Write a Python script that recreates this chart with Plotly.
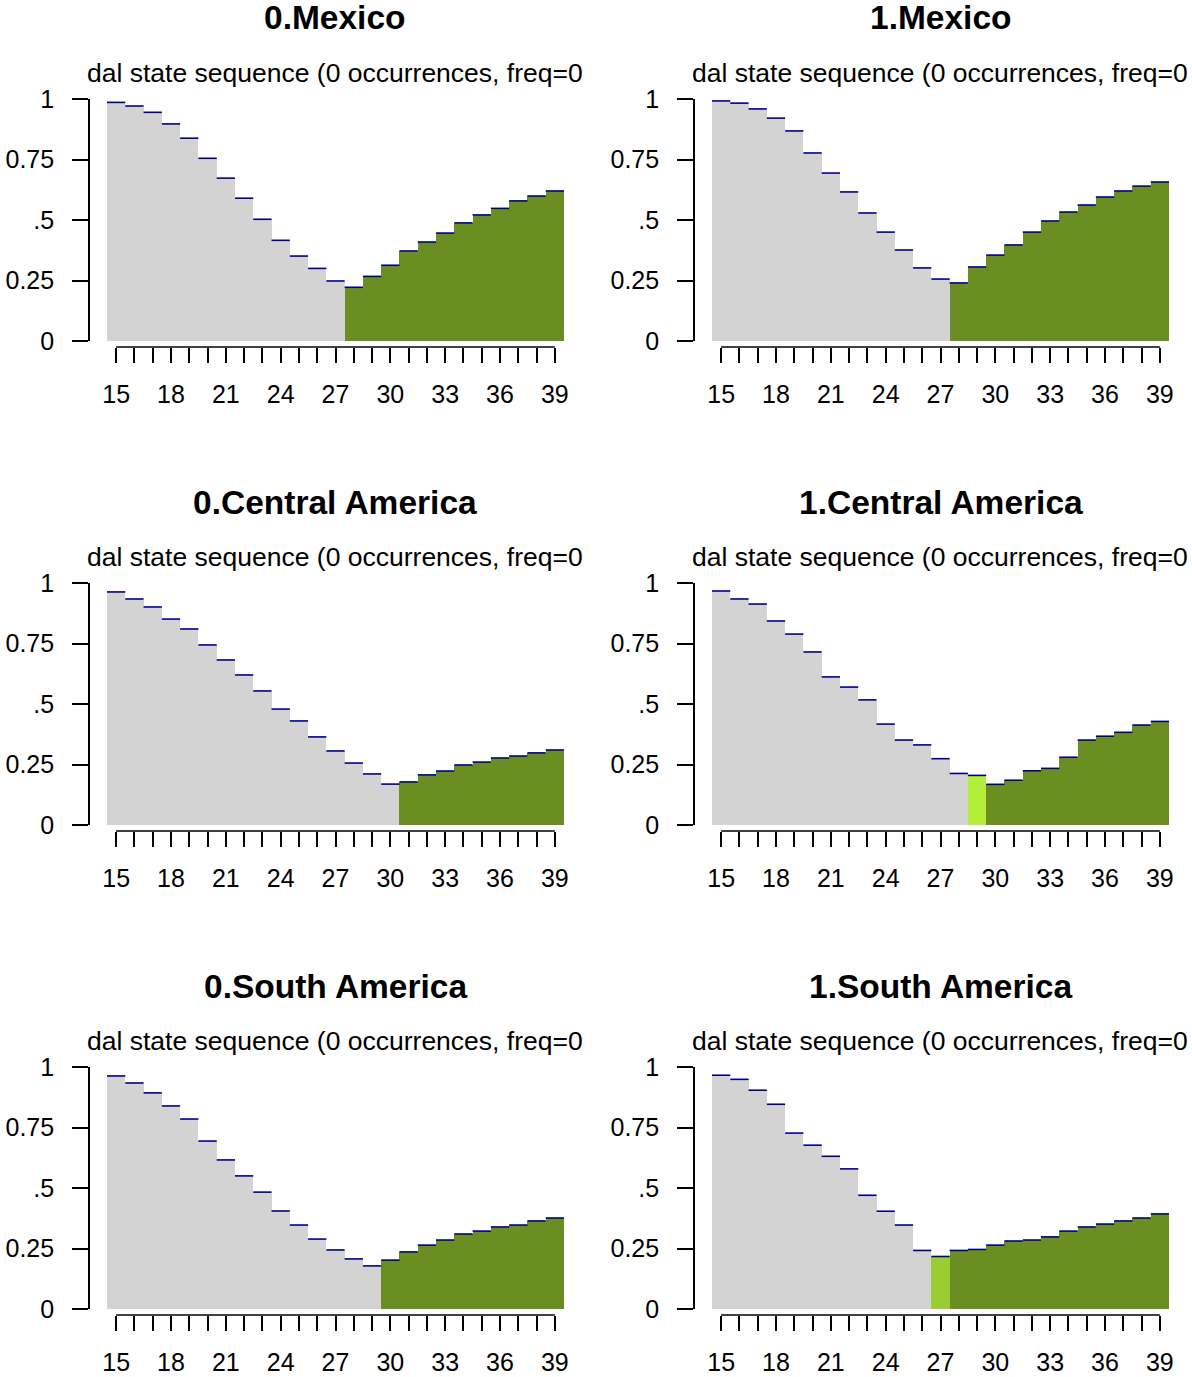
import plotly.graph_objects as go

# ---------------- data ----------------
ages = list(range(15, 40))
x_tick_text = [str(a) if (a - 15) % 3 == 0 else "" for a in ages]
y_tick_vals = [0, 0.25, 0.5, 0.75, 1]
y_tick_text = ["0", "0.25", ".5", "0.75", "1"]

panel_titles = ["0.Mexico", "1.Mexico",
                "0.Central America", "1.Central America",
                "0.South America", "1.South America"]
subtitle = "dal state sequence (0 occurrences, freq=0"

freq_0_mexico = [0.986, 0.971, 0.945, 0.897, 0.838, 0.755, 0.673, 0.590, 0.503, 0.416,
                 0.351, 0.300, 0.248, 0.222, 0.267, 0.313, 0.372, 0.409, 0.446, 0.488,
                 0.521, 0.548, 0.579, 0.599, 0.620]
state_0_mexico = list("SSSSSSSSSSSSSMMMMMMMMMMMM")

freq_1_mexico = [0.992, 0.983, 0.959, 0.921, 0.868, 0.777, 0.694, 0.616, 0.529, 0.450,
                 0.376, 0.302, 0.256, 0.240, 0.306, 0.355, 0.397, 0.450, 0.496, 0.533,
                 0.562, 0.595, 0.620, 0.640, 0.657]
state_1_mexico = list("SSSSSSSSSSSSSMMMMMMMMMMMM")

freq_0_central = [0.963, 0.934, 0.901, 0.851, 0.810, 0.744, 0.682, 0.620, 0.554, 0.479,
                  0.430, 0.364, 0.306, 0.256, 0.211, 0.169, 0.178, 0.207, 0.223, 0.248,
                  0.260, 0.277, 0.285, 0.298, 0.310]
state_0_central = list("SSSSSSSSSSSSSSSSMMMMMMMMM")

freq_1_central = [0.967, 0.934, 0.913, 0.843, 0.789, 0.715, 0.612, 0.570, 0.517, 0.417,
                  0.351, 0.331, 0.274, 0.213, 0.205, 0.168, 0.185, 0.224, 0.234, 0.280,
                  0.351, 0.367, 0.383, 0.413, 0.428]
state_1_central = list("SSSSSSSSSSSSSSCMMMMMMMMMM")

freq_0_south = [0.963, 0.934, 0.893, 0.839, 0.785, 0.694, 0.616, 0.550, 0.483, 0.405,
                0.347, 0.289, 0.244, 0.207, 0.178, 0.202, 0.236, 0.264, 0.285, 0.310,
                0.322, 0.339, 0.347, 0.364, 0.376]
state_0_south = list("SSSSSSSSSSSSSSSMMMMMMMMMM")

freq_1_south = [0.966, 0.949, 0.904, 0.846, 0.727, 0.677, 0.631, 0.579, 0.470, 0.404,
                0.347, 0.242, 0.217, 0.242, 0.246, 0.264, 0.281, 0.285, 0.298, 0.322,
                0.339, 0.351, 0.364, 0.376, 0.393]
state_1_south = list("SSSSSSSSSSSSUMMMMMMMMMMMM")

panel_freqs = [freq_0_mexico, freq_1_mexico, freq_0_central,
               freq_1_central, freq_0_south, freq_1_south]
panel_states = [state_0_mexico, state_1_mexico, state_0_central,
                state_1_central, state_0_south, state_1_south]

state_colors = {"S": "#D3D3D3", "M": "#6B8E23", "C": "#B3EE3A", "U": "#9ACD32"}
top_line_color = "#00008B"

# ---------------- layout geometry (pixels) ----------------
W, H = 1192, 1377
FONT = "Liberation Sans, Arial, sans-serif"


def px_x(v):
    return v / W


def px_y(v):
    return 1 - v / H


fig = go.Figure()
layout = {}
annotations = []
shapes = []

for p in range(6):
    r, c = divmod(p, 2)
    ox = 605 * c
    oy = 484 * r
    xname = "x" if p == 0 else f"x{p + 1}"
    yname = "y" if p == 0 else f"y{p + 1}"

    freqs = panel_freqs[p]
    cols = [state_colors[s] for s in panel_states[p]]

    fig.add_trace(go.Bar(
        x=ages, y=freqs, width=1.0,
        marker=dict(color=cols, line=dict(width=0)),
        xaxis=xname, yaxis=yname, showlegend=False,
    ))
    seg_x, seg_y = [], []
    for a, f in zip(ages, freqs):
        seg_x += [a - 0.5, a + 0.5, None]
        seg_y += [f, f, None]
    fig.add_trace(go.Scatter(
        x=seg_x, y=seg_y, mode="lines",
        line=dict(color=top_line_color, width=1.6),
        xaxis=xname, yaxis=yname, showlegend=False, hoverinfo="skip",
    ))

    layout[f"xaxis{p + 1}"] = dict(
        domain=[px_x(107 + ox), px_x(564 + ox)], range=[14.5, 39.5],
        anchor="free", position=px_y(347 + oy), side="bottom",
        showline=False,
        ticks="outside", ticklen=15, tickwidth=1.6, tickcolor="black",
        tickmode="array", tickvals=ages, ticktext=x_tick_text,
        tickfont=dict(family=FONT, size=25, color="black"),
        ticklabelstandoff=10,
        showgrid=False, zeroline=False, fixedrange=True, automargin=False,
    )
    layout[f"yaxis{p + 1}"] = dict(
        domain=[px_y(341 + oy), px_y(99 + oy)], range=[0, 1],
        anchor="free", position=px_x(89 + ox), side="left",
        showline=True, linecolor="black", linewidth=1.6,
        ticks="outside", ticklen=16, tickwidth=1.6, tickcolor="black",
        tickmode="array", tickvals=y_tick_vals, ticktext=y_tick_text,
        tickfont=dict(family=FONT, size=25, color="black"),
        ticklabelstandoff=13,
        showgrid=False, zeroline=False, fixedrange=True, automargin=False,
    )
    # x axis line spanning first to last tick, like R's axis()
    shapes.append(dict(
        type="line", xref=xname, yref="paper",
        x0=ages[0], x1=ages[-1], y0=px_y(347 + oy), y1=px_y(347 + oy),
        line=dict(color="black", width=1.6),
    ))

    annotations.append(dict(
        text="<b>" + panel_titles[p] + "</b>", xref="paper", yref="paper",
        x=px_x(335.5 + ox), y=px_y(18 + oy), xanchor="center", yanchor="middle",
        showarrow=False, font=dict(family=FONT, size=33.5, color="black"),
    ))
    annotations.append(dict(
        text=subtitle, xref="paper", yref="paper",
        x=px_x(335 + ox), y=px_y(73 + oy), xanchor="center", yanchor="middle",
        showarrow=False, font=dict(family=FONT, size=26.5, color="black"),
    ))

fig.update_layout(
    width=W, height=H, autosize=False,
    margin=dict(l=0, r=0, t=0, b=0, pad=0),
    paper_bgcolor="white", plot_bgcolor="white",
    bargap=0,
    annotations=annotations,
    shapes=shapes,
    **layout,
)

fig.write_html(
    "out.html",
    config={"displayModeBar": False},
    post_script="document.body.style.margin='0';document.body.style.overflow='hidden';",
)
